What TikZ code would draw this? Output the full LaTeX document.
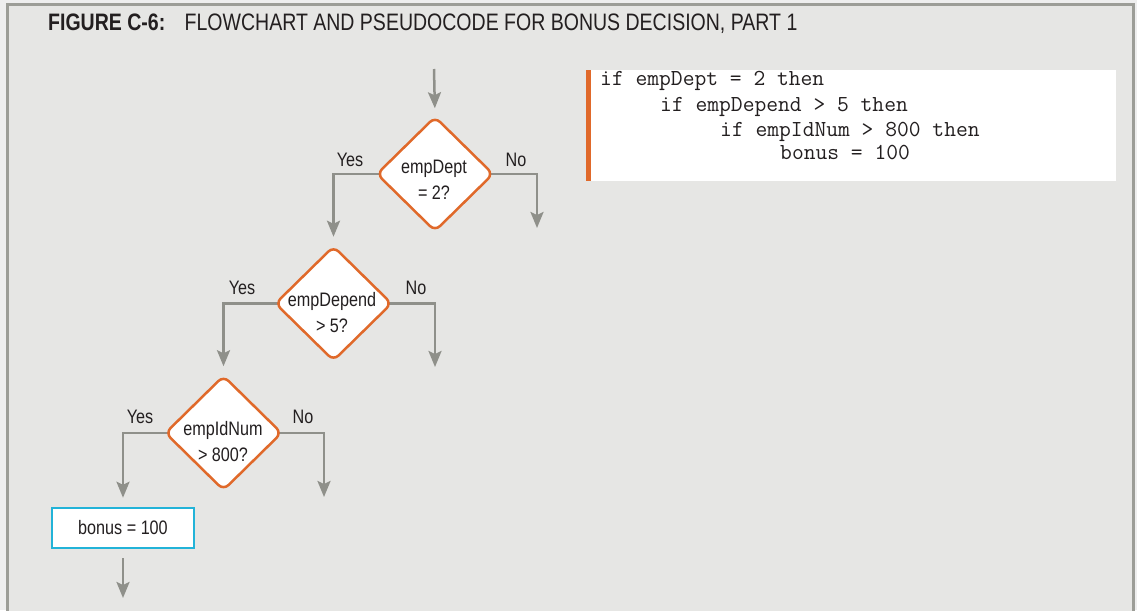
\documentclass[tikz,border=0pt]{standalone}
\usepackage{fontspec}
\setmainfont{Liberation Sans}
\newfontfamily\condfont{Liberation Sans}[FakeStretch=0.83]
\newfontfamily\titlefont{Liberation Sans}[FakeStretch=0.82]
\usetikzlibrary{shapes.geometric,arrows.meta}
\pgfdeclarelayer{back}
\pgfdeclarelayer{bg}
\pgfsetlayers{back,bg,main}
\definecolor{outerbg}{HTML}{EEEEEE}
\definecolor{innerbg}{HTML}{E6E6E4}
\definecolor{framec}{HTML}{9C9D97}
\definecolor{arrowc}{HTML}{8F908A}
\definecolor{orangec}{HTML}{E0692A}
\definecolor{cyanc}{HTML}{22B3D8}
\definecolor{textc}{HTML}{231F20}
\tikzset{
  dia/.style={diamond, draw=orangec, fill=white, line width=2.5pt, rounded corners=7pt,
              minimum width=117pt, minimum height=115pt, inner sep=0pt},
  dtext/.style={font=\condfont\fontsize{19.5}{26}\selectfont, text=textc, align=center, inner sep=0pt},
  lbl/.style={font=\condfont\fontsize{19.5}{20}\selectfont, text=textc, inner sep=0pt},
  arr/.style={draw=arrowc, line width=2.5pt, -{Stealth[length=16pt,width=13pt,inset=3pt]}},
  procbox/.style={draw=cyanc, fill=white, line width=2.5pt, minimum width=142pt, minimum height=40pt,
              inner sep=0pt, font=\condfont\fontsize{19.5}{20}\selectfont, text=textc},
  codeline/.style={anchor=base west, inner sep=0pt, text=textc,
              font=\ttfamily\fontsize{22.9}{26}\selectfont},
  ttl/.style={anchor=base west, inner sep=0pt, text=textc, font=\titlefont\fontsize{23.8}{24}\selectfont}
}
\begin{document}
\begin{tikzpicture}[x=1pt,y=-1pt]
\begin{pgfonlayer}{back}
\fill[outerbg] (0,0) rectangle (1137,610);
\end{pgfonlayer}
\useasboundingbox (0,0) rectangle (1137,610);
\begin{pgfonlayer}{back}
\filldraw[fill=innerbg, draw=framec, line width=3pt] (7,4.5) rectangle (1133.5,650);
\end{pgfonlayer}

% title
\node[ttl] (t1) at (48,31) {\bfseries FIGURE C-6:};
\node[ttl, anchor=base west] (t2) at ([xshift=19pt]t1.base east) {FLOWCHART AND PSEUDOCODE FOR BONUS DECISION, PART 1};

% pseudocode
\fill[white] (588,70) rectangle (1116,181);
\fill[orangec] (586,70) rectangle (591,181);
\node[codeline] (c1) at (600,85) {if empDept = 2 then};
\node[codeline] (c2) at (660,111) {if empDepend > 5 then};
\node[codeline] (c3) at (720,136) {if empIdNum > 800 then};
\node[codeline] (c4) at (780,159) {bonus = 100};

% flowchart
\node[dia] (d1) at (435,174) {};
\node[dtext] (d1t) at (434,180) {empDept\\= 2?};
\node[dia] (d2) at (333.5,303.5) {};
\node[dtext] (d2t) at (332,313) {empDepend\\> 5?};
\node[dia] (d3) at (223.5,433) {};
\node[dtext] (d3t) at (223,442) {empIdNum\\> 800?};
\node[procbox] (b1) at (123,528) {bonus = 100};

\coordinate (s0) at (434,69);
\coordinate (n1) at (537,228);
\coordinate (n2) at (435,367);
\coordinate (n3) at (324,497);
\coordinate (e0) at (125,598);

\begin{pgfonlayer}{bg}
\draw[arr, shorten >=7pt] (s0) -- (d1.north);
\draw[arr, shorten <=-6pt, shorten >=8pt] (d1.west) -| (d2.north);
\draw[arr, shorten <=-6pt] (d1.east) -| (n1);
\draw[arr, shorten <=-6pt, shorten >=8pt] (d2.west) -| (d3.north);
\draw[arr, shorten <=-6pt] (d2.east) -| (n2);
\draw[arr, shorten <=-6pt, shorten >=9pt] (d3.west) -| (b1.north);
\draw[arr, shorten <=-6pt] (d3.east) -| (n3);
\draw[arr, shorten <=9pt] (b1.south) -- (b1.south |- e0);
\end{pgfonlayer}

\node[lbl] (y1) at (350,160) {Yes};
\node[lbl] (no1) at (516,160) {No};
\node[lbl] (y2) at (242,288) {Yes};
\node[lbl] (no2) at (416,288) {No};
\node[lbl] (y3) at (140,417) {Yes};
\node[lbl] (no3) at (303,417) {No};
\end{tikzpicture}
\end{document}
